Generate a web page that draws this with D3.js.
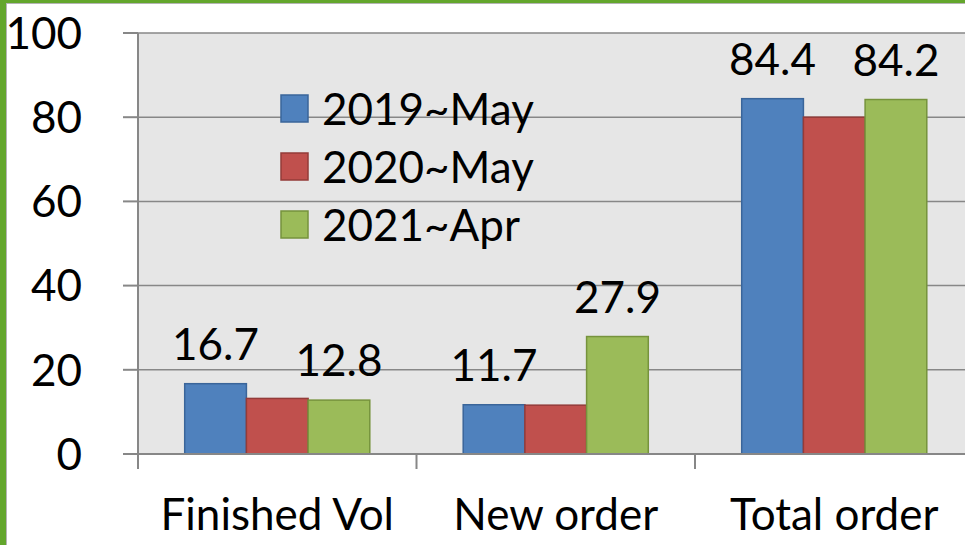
<!DOCTYPE html>
<html>
<head>
<meta charset="utf-8">
<script src="https://cdn.jsdelivr.net/npm/d3@7"></script>
<style>
  body { margin: 0; background: #fff; }
  text { font-family: Lato, "Open Sans", sans-serif; fill: #000; }
</style>
</head>
<body>
<div id="chart"></div>
<script>
var width = 965,
    height = 545;

var categories = ["Finished Vol", "New order", "Total order"];
var seriesNames = ["2019~May", "2020~May", "2021~Apr"];
var series2019 = [16.7, 11.7, 84.4];
var series2020 = [13.2, 11.6, 80.0];
var series2021 = [12.8, 27.9, 84.2];
// which bars carry a value label (the red series has none)
var showLabel = [true, false, true];
var yTicks = [0, 20, 40, 60, 80, 100];

var fills = ["#4f81bd", "#c0504d", "#9bbb59"];
var strokes = ["#3a659a", "#943b39", "#76933c"];

var allSeries = [series2019, series2020, series2021];

var svg = d3.select("#chart").append("svg")
    .attr("width", width)
    .attr("height", height);

// frame
svg.append("rect").attr("x", 0).attr("y", 0).attr("width", width).attr("height", height).attr("fill", "#fff");
svg.append("rect").attr("x", 0).attr("y", 0).attr("width", 6).attr("height", height).attr("fill", "#63a62c");
svg.append("rect").attr("x", 0).attr("y", 0).attr("width", width).attr("height", 3).attr("fill", "#63a62c");
svg.append("line").attr("x1", 6.5).attr("x2", 6.5).attr("y1", 3).attr("y2", height)
    .attr("stroke", "#b4b4b4").attr("stroke-width", 1);
svg.append("line").attr("x1", 6).attr("x2", width).attr("y1", 3.5).attr("y2", 3.5)
    .attr("stroke", "#b4b4b4").attr("stroke-width", 1);

var plotLeft = 138, plotRight = 973.5, plotTop = 33, plotBottom = 454;

var x0 = d3.scaleBand()
    .domain(categories)
    .range([plotLeft, plotRight])
    .padding(0);

var x1 = d3.scaleBand()
    .domain(seriesNames)
    .range([0, x0.bandwidth()])
    .paddingInner(0)
    .paddingOuter(0.757);

var y = d3.scaleLinear()
    .domain([0, 100])
    .range([plotBottom, plotTop]);

// plot area
svg.append("rect")
    .attr("x", plotLeft).attr("y", plotTop)
    .attr("width", plotRight - plotLeft).attr("height", plotBottom - plotTop)
    .attr("fill", "#e6e6e6");

// gridlines
svg.append("g").selectAll("line")
    .data(yTicks.filter(function(d) { return d > 0; }))
    .enter().append("line")
    .attr("x1", plotLeft).attr("x2", plotRight)
    .attr("y1", function(d) { return y(d); })
    .attr("y2", function(d) { return y(d); })
    .attr("stroke", "#878787")
    .attr("stroke-width", 1.5);

// bars
var rows = categories.map(function(c, i) {
    return seriesNames.map(function(s, j) {
        return { cat: c, s: s, j: j, v: allSeries[j][i] };
    });
});

var groups = svg.append("g").selectAll("g")
    .data(rows)
    .enter().append("g")
    .attr("transform", function(d, i) { return "translate(" + x0(categories[i]) + ",0)"; });

groups.selectAll("rect")
    .data(function(d) { return d; })
    .enter().append("rect")
    .attr("x", function(d) { return x1(d.s); })
    .attr("y", function(d) { return y(d.v); })
    .attr("width", x1.bandwidth())
    .attr("height", function(d) { return y(0) - y(d.v); })
    .attr("fill", function(d) { return fills[d.j]; })
    .attr("stroke", function(d) { return strokes[d.j]; })
    .attr("stroke-width", 1.5);

groups.selectAll("text")
    .data(function(d) { return d.filter(function(e) { return showLabel[e.j]; }); })
    .enter().append("text")
    .attr("x", function(d) { return x1(d.s) + x1.bandwidth() / 2; })
    .attr("y", function(d) { return y(d.v) - 24; })
    .attr("text-anchor", "middle")
    .attr("font-size", 44)
    .text(function(d) { return d.v.toFixed(1); });

// y axis
svg.append("line").attr("x1", plotLeft).attr("x2", plotLeft).attr("y1", plotTop).attr("y2", plotBottom)
    .attr("stroke", "#878787").attr("stroke-width", 2);
svg.append("g").selectAll("line")
    .data(yTicks)
    .enter().append("line")
    .attr("x1", 123).attr("x2", plotLeft)
    .attr("y1", function(d) { return y(d); })
    .attr("y2", function(d) { return y(d); })
    .attr("stroke", "#878787").attr("stroke-width", 2);
svg.append("g").selectAll("text")
    .data(yTicks)
    .enter().append("text")
    .attr("x", 82)
    .attr("y", function(d) { return y(d); })
    .attr("dy", "0.36em")
    .attr("text-anchor", "end")
    .attr("font-size", 44)
    .text(function(d) { return d; });

// x axis
svg.append("line").attr("x1", plotLeft).attr("x2", plotRight).attr("y1", plotBottom).attr("y2", plotBottom)
    .attr("stroke", "#878787").attr("stroke-width", 2);
svg.append("g").selectAll("line")
    .data(categories)
    .enter().append("line")
    .attr("x1", function(d) { return x0(d); })
    .attr("x2", function(d) { return x0(d); })
    .attr("y1", plotBottom).attr("y2", plotBottom + 15)
    .attr("stroke", "#878787").attr("stroke-width", 2);
svg.append("g").selectAll("text")
    .data(categories)
    .enter().append("text")
    .attr("x", function(d) { return x0(d) + x0.bandwidth() / 2; })
    .attr("y", 530)
    .attr("text-anchor", "middle")
    .attr("font-size", 44)
    .text(function(d) { return d; });

// legend
var legend = svg.append("g").attr("transform", "translate(281,95)");
var item = legend.selectAll("g")
    .data(seriesNames)
    .enter().append("g")
    .attr("transform", function(d, i) { return "translate(0," + (i * 58) + ")"; });
item.append("rect")
    .attr("width", 27).attr("height", 27)
    .attr("fill", function(d, i) { return fills[i]; })
    .attr("stroke", function(d, i) { return strokes[i]; })
    .attr("stroke-width", 1.5);
item.append("text")
    .attr("x", 41)
    .attr("y", 14)
    .attr("dy", "0.36em")
    .attr("font-size", 44)
    .text(function(d) { return d; });
</script>
</body>
</html>
